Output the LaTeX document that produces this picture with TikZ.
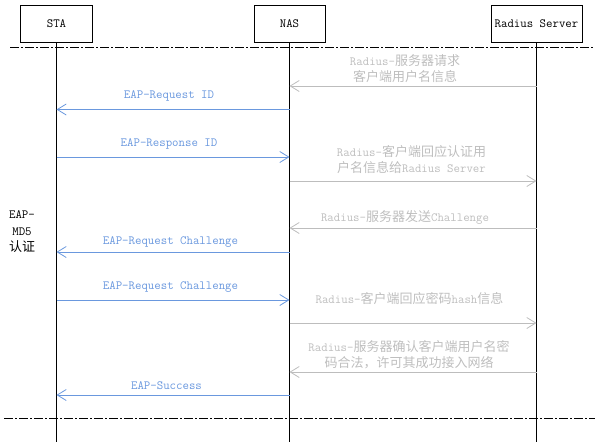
\documentclass[tikz,border=0pt]{standalone}
\usepackage{fontspec}
\newfontfamily\cjk{Noto Sans CJK SC}[Scale=1.04]
\usetikzlibrary{arrows.meta}
\definecolor{eapblue}{HTML}{6A98DE}
\definecolor{radgray}{HTML}{BDBDBD}
\definecolor{radtext}{HTML}{BEBEBE}
\newcommand\zh[1]{{\cjk #1}}
\begin{document}
\begin{tikzpicture}[x=1pt,y=-1pt,
  font=\ttfamily\fontsize{12.5}{16}\selectfont,
  actor/.style={draw,line width=0.8pt,minimum height=37.5pt,inner sep=0pt},
  life/.style={line width=1.2pt},
  sepline/.style={line width=0.9pt,dash pattern=on 9pt off 2pt on 2pt off 2pt},
  eapmsg/.style={eapblue,line width=0.8pt,-{Straight Barb[length=9pt,width=11pt]}},
  radmsg/.style={radgray,line width=0.8pt,-{Straight Barb[length=9pt,width=11pt]}},
  eaplabel/.style={text=eapblue,inner sep=0pt},
  radlabel/.style={text=radtext,align=center,inner sep=0pt}]
\useasboundingbox (0,0) rectangle (595,442);

% actors
\node[actor,minimum width=72pt] (sta) at (56.5,24) {STA};
\node[actor,minimum width=71pt] (nas) at (289.5,24) {NAS};
\node[actor,minimum width=91pt] (rad) at (536.5,24) {Radius Server};

% lifelines
\coordinate (bot) at (0,442);
\draw[life] (sta.south) -- (sta.south |- bot);
\draw[life] (nas.south) -- (nas.south |- bot);
\draw[life] (rad.south) -- (rad.south |- bot);

% separators
\coordinate (t1) at (10,47);
\coordinate (t2) at (595,47);
\coordinate (b1) at (4,418);
\coordinate (b2) at (595,418);
\draw[sepline] (t1) -- (t2);
\draw[sepline] (b1) -- (b2);

% message end points
\coordinate (r1) at (536.5,86);  \coordinate (n1) at (289.5,86);
\coordinate (n2) at (289.5,109.5); \coordinate (s2) at (56.5,109.5);
\coordinate (s3) at (56.5,157);  \coordinate (n3) at (289.5,157);
\coordinate (n4) at (289.5,181); \coordinate (r4) at (536.5,181);
\coordinate (r5) at (536.5,228); \coordinate (n5) at (289.5,228);
\coordinate (n6) at (289.5,252); \coordinate (s6) at (56.5,252);
\coordinate (s7) at (56.5,300);  \coordinate (n7) at (289.5,300);
\coordinate (n8) at (289.5,323); \coordinate (r8) at (536.5,323);
\coordinate (r9) at (536.5,372); \coordinate (n9) at (289.5,372);
\coordinate (n10) at (289.5,395); \coordinate (s10) at (56.5,395);

% messages
\draw[radmsg] (r1) -- (n1);
\node[radlabel] (l1) at (405,69) {Radius-\zh{服务器请求}\\\zh{客户端用户名信息}};

\draw[eapmsg] (n2) -- (s2);
\node[eaplabel] (l2) at (169,96) {EAP-Request ID};

\draw[eapmsg] (s3) -- (n3);
\node[eaplabel] (l3) at (169,144) {EAP-Response ID};

\draw[radmsg] (n4) -- (r4);
\node[radlabel] (l4) at (411.5,160) {Radius-\zh{客户端回应认证用}\\\zh{户名信息给}Radius Server};

\draw[radmsg] (r5) -- (n5);
\node[radlabel] (l5) at (405,217) {Radius-\zh{服务器发送}Challenge};

\draw[eapmsg] (n6) -- (s6);
\node[eaplabel] (l6) at (170.5,242) {EAP-Request Challenge};

\draw[eapmsg] (s7) -- (n7);
\node[eaplabel] (l7) at (170.5,287) {EAP-Request Challenge};

\draw[radmsg] (n8) -- (r8);
\node[radlabel] (l8) at (409.5,299) {Radius-\zh{客户端回应密码}hash\zh{信息}};

\draw[radmsg] (r9) -- (n9);
\node[radlabel] (l9) at (409,354.5) {Radius-\zh{服务器确认客户端用户名密}\\\zh{码合法，许可其成功接入网络}};

\draw[eapmsg] (n10) -- (s10);
\node[eaplabel] (l10) at (166.5,386) {EAP-Success};

% phase label
\node[align=center,inner sep=0pt,font=\ttfamily\fontsize{12.5}{16.5}\selectfont] (phase) at (22,232) {EAP-\\MD5\\\zh{认证}};
\end{tikzpicture}
\end{document}
